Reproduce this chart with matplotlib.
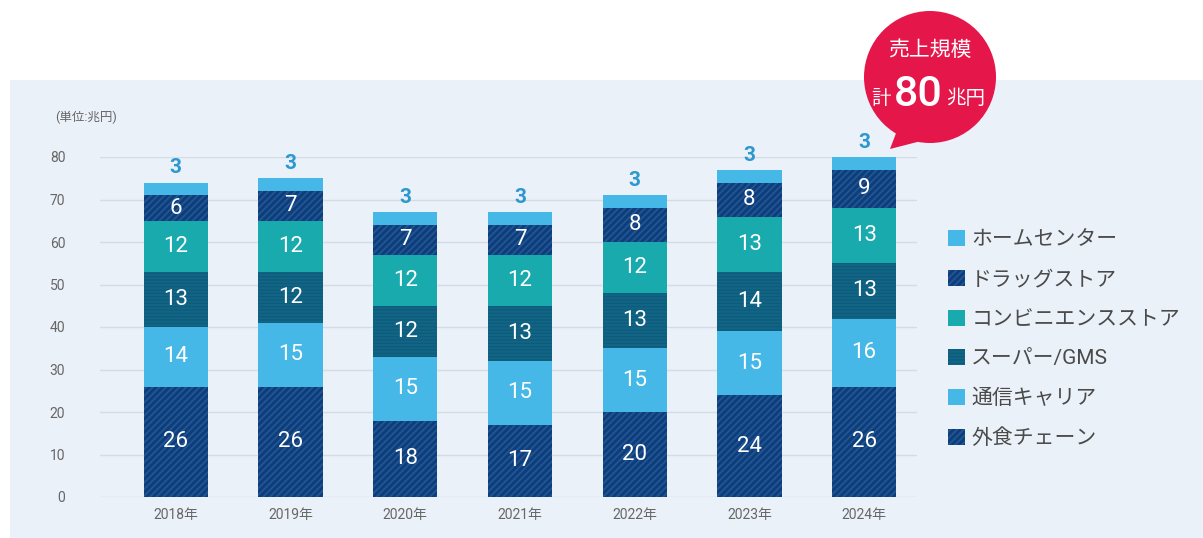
import matplotlib
matplotlib.use("Agg")
import matplotlib.pyplot as plt
from matplotlib.patches import Rectangle, Circle, Polygon
import numpy as np

plt.rcParams['font.family'] = ['Roboto', 'Noto Sans CJK JP', 'DejaVu Sans']
plt.rcParams['hatch.linewidth'] = 1.3

years = ["2018年", "2019年", "2020年", "2021年", "2022年", "2023年", "2024年"]
gaishoku = [26, 26, 18, 17, 20, 24, 26]
tsushin = [14, 15, 15, 15, 15, 15, 16]
super_gms = [13, 12, 12, 13, 13, 14, 13]
conveni = [12, 12, 12, 12, 12, 13, 13]
drug = [6, 7, 7, 7, 8, 8, 9]
home = [3, 3, 3, 3, 3, 3, 3]
series_names = ["外食チェーン", "通信キャリア", "スーパー/GMS", "コンビニエンスストア", "ドラッグストア", "ホームセンター"]
y_ticks = [0, 10, 20, 30, 40, 50, 60, 70, 80]
unit_label = "(単位:兆円)"
bubble_line1 = "売上規模"
bubble_total = "80"

series = [gaishoku, tsushin, super_gms, conveni, drug, home]
styles = [
    dict(color="#0C3E7E", edgecolor="#24558F", hatch="/////"),
    dict(color="#45B8E8", edgecolor="#45B8E8", hatch=None),
    dict(color="#0D5C7C", edgecolor="#136587", hatch="-----"),
    dict(color="#19AAAE", edgecolor="#19AAAE", hatch=None),
    dict(color="#0C3E7E", edgecolor="#24558F", hatch="/////"),
    dict(color="#45B8E8", edgecolor="#45B8E8", hatch=None),
]

W, H = 1203, 538
fig = plt.figure(figsize=(W / 100, H / 100), dpi=100)
fig.patch.set_facecolor("white")

# background panel
bg = fig.add_axes([0, 0, 1, 1])
bg.set_xlim(0, W)
bg.set_ylim(H, 0)
bg.axis("off")
bg.add_patch(Rectangle((10, 80), W - 10, H - 80, facecolor="#EBF1F8", edgecolor="none"))

ax_left, ax_right = 100, 917
ax_bottom, ax_top = 497, 157
ax = fig.add_axes([ax_left / W, (H - ax_bottom) / H, (ax_right - ax_left) / W, (ax_bottom - ax_top) / H])
ax.set_facecolor("none")

x = np.arange(len(years))
bottom = np.zeros(len(years))
handles = []
for vals, st, name in zip(series, styles, series_names):
    vals = np.array(vals, dtype=float)
    b = ax.bar(x, vals, bottom=bottom, width=0.56, color=st["color"], edgecolor=st["edgecolor"],
               hatch=st["hatch"], linewidth=0, zorder=3, label=name)
    handles.append(b)
    bottom = bottom + vals

# labels inside segments (all except top series)
bottom = np.zeros(len(years))
for vals in series[:-1]:
    vals = np.array(vals, dtype=float)
    for xi, v, b0 in zip(x, vals, bottom):
        ax.text(xi, b0 + v / 2, f"{int(v)}", ha="center", va="center", color="white",
                fontsize=16, zorder=5)
    bottom = bottom + vals
# top series label above bars
for xi, v, b0 in zip(x, home, bottom):
    ax.text(xi, b0 + v + 1.2, f"{int(v)}", ha="center", va="bottom", color="#2C98CF",
            fontsize=15, fontweight="bold", zorder=5, clip_on=False)

ax.set_xlim(-0.66, 6.46)
ax.set_ylim(0, 80)
ax.set_yticks(y_ticks)
ax.set_xticks(x)
ax.set_xticklabels(years)
ax.grid(axis="y", color="#D5DCE5", linewidth=1, zorder=0)
for s in ax.spines.values():
    s.set_visible(False)
ax.tick_params(axis="both", length=0, colors="#666666", labelsize=10)
ax.tick_params(axis="y", pad=25)
ax.tick_params(axis="x", pad=8)

fig.text(55 / W, 1 - 117 / H, unit_label, fontsize=9, color="#666666", va="center", ha="left")

# legend
leg = fig.legend(handles[::-1], series_names[::-1], loc="upper left",
                 bbox_to_anchor=(940 / W, 1 - 222 / H), frameon=False,
                 fontsize=15, labelcolor="#4A4A4A", handlelength=0.8, handleheight=0.8,
                 handletextpad=0.3, labelspacing=0.98, borderaxespad=0)

# bubble
cx, cy, r = 930, 77, 66
bg.add_patch(Polygon([[898, 128], [925, 140], [890, 149]], closed=True, facecolor="#E5164A",
                     edgecolor="none", zorder=4))
bg.add_patch(Circle((cx, cy), r, facecolor="#E5164A", edgecolor="none", zorder=5))
bg.text(cx, 50, bubble_line1, ha="center", va="center", color="white", fontsize=15,
        zorder=6, family=["Noto Sans CJK JP"])
bg.text(881, 99, "計", ha="center", va="center", color="white", fontsize=14,
        zorder=6, family=["Noto Sans CJK JP"])
bg.text(918, 95, bubble_total, ha="center", va="center", color="white", fontsize=31,
        fontweight="medium", zorder=6)
bg.text(966, 99, "兆円", ha="center", va="center", color="white", fontsize=14,
        zorder=6, family=["Noto Sans CJK JP"])

fig.savefig("out.png", dpi=100)
